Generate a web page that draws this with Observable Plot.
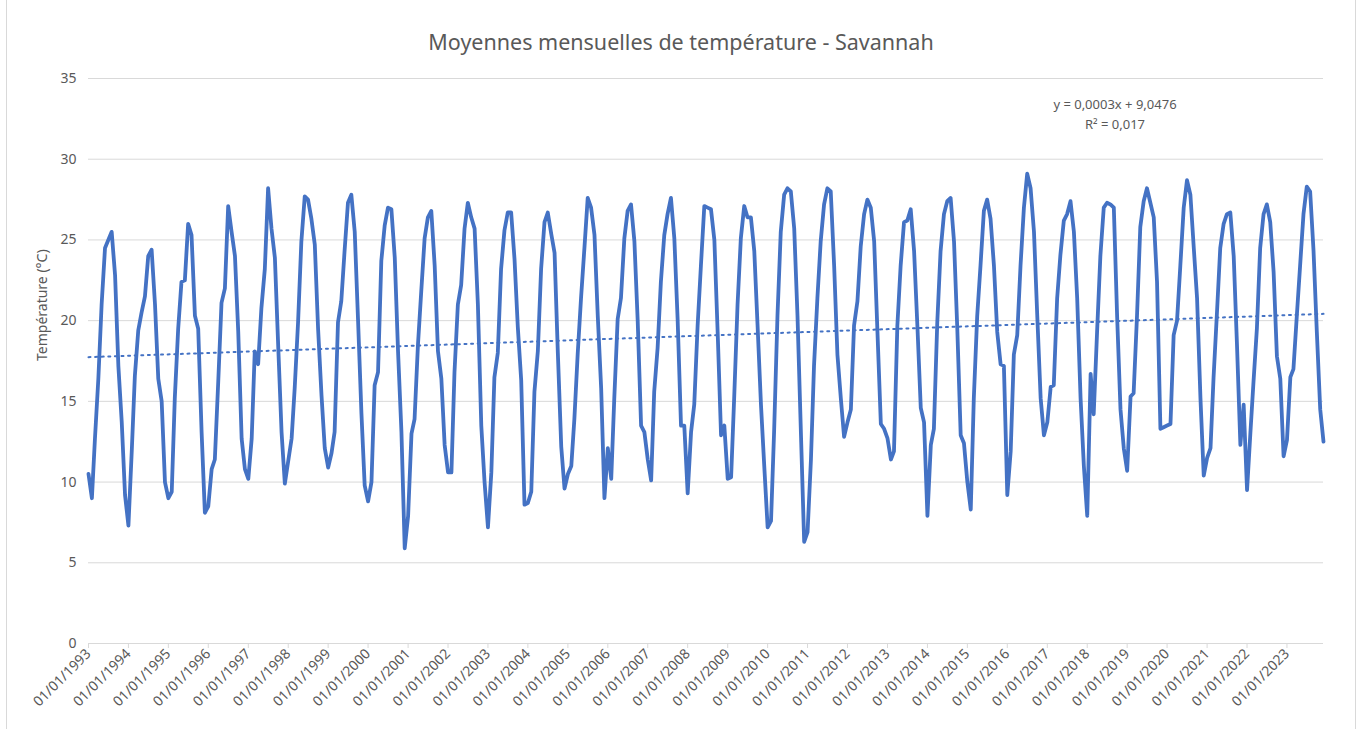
<!DOCTYPE html>
<html><head><meta charset="utf-8">
<script src="https://cdn.jsdelivr.net/npm/d3@7"></script>
<script src="https://cdn.jsdelivr.net/npm/@observablehq/plot@0.6"></script>
<style>
body{margin:0;background:#fff;}
#wrap{position:relative;width:1362px;height:729px;overflow:hidden;font-family:"Noto Sans",sans-serif;color:#595959;}
#frame{position:absolute;left:6px;top:-2px;width:1350px;height:740px;border:1px solid #d9d9d9;box-sizing:border-box;}
#title{position:absolute;left:0;top:27px;width:1362px;text-align:center;font-size:21.5px;}
#eq{position:absolute;left:1015px;top:94px;width:200px;text-align:center;font-size:13px;line-height:20px;}
#chart{position:absolute;left:0;top:0;}
</style></head><body>
<div id="wrap"><div id="frame"></div><div id="chart"></div><div id="title"></div><div id="eq"></div></div>
<script>
const titleText = "Moyennes mensuelles de température - Savannah";
const yLabel = "Température (°C)";
const equationLines = ["y = 0,0003x + 9,0476", "R² = 0,017"];
const startYear = 1993;
const yTicks = [0, 5, 10, 15, 20, 25, 30, 35];
const tickYears = d3.range(1993, 2024);
// Monthly mean temperature (°C), Jan 1993 .. Dec 2023, one row per year
const temperature = [
  10.5, 9.0, 12.7, 16.4, 21.0, 24.5, 25.0, 25.5, 22.8, 17.2, 13.7, 9.2,
  7.3, 12.0, 16.6, 19.4, 20.5, 21.5, 24.0, 24.4, 21.0, 16.4, 15.0, 10.0,
  9.0, 9.4, 15.2, 19.5, 22.4, 22.5, 26.0, 25.3, 20.3, 19.5, 13.1, 8.1,
  8.5, 10.8, 11.4, 16.2, 21.1, 22.0, 27.1, 25.5, 24.0, 19.3, 12.7, 10.8,
  10.2, 12.7, 18.1, 17.3, 20.8, 23.2, 28.2, 25.7, 23.9, 18.5, 13.1, 9.9,
  11.3, 12.7, 15.8, 19.9, 24.9, 27.7, 27.5, 26.3, 24.7, 19.5, 15.4, 12.1,
  10.9, 11.8, 13.1, 19.9, 21.2, 24.4, 27.3, 27.8, 25.5, 20.1, 14.3, 9.8,
  8.8, 10.0, 16.0, 16.8, 23.7, 25.9, 27.0, 26.9, 23.9, 18.1, 13.1, 5.9,
  7.9, 13.0, 13.9, 18.5, 21.8, 25.1, 26.4, 26.8, 23.4, 18.1, 16.4, 12.3,
  10.6, 10.6, 16.8, 21.0, 22.2, 25.7, 27.3, 26.4, 25.7, 21.0, 13.5, 10.0,
  7.2, 10.6, 16.5, 18.0, 23.2, 25.6, 26.7, 26.7, 23.8, 19.6, 16.3, 8.6,
  8.7, 9.4, 15.6, 18.1, 23.2, 26.1, 26.7, 25.4, 24.2, 18.0, 12.2, 9.6,
  10.5, 11.0, 13.9, 18.0, 21.4, 24.5, 27.6, 27.0, 25.3, 20.3, 15.8, 9.0,
  12.1, 10.2, 15.2, 20.1, 21.4, 25.1, 26.8, 27.2, 24.9, 20.0, 13.5, 13.1,
  11.4, 10.1, 15.6, 18.3, 22.4, 25.3, 26.6, 27.6, 25.1, 20.1, 13.5, 13.5,
  9.3, 13.1, 14.8, 19.7, 23.4, 27.1, 27.0, 26.9, 25.0, 19.3, 12.9, 13.5,
  10.2, 10.3, 15.2, 21.0, 25.1, 27.1, 26.4, 26.4, 24.3, 19.7, 14.8, 11.0,
  7.2, 7.6, 13.1, 20.3, 25.5, 27.8, 28.2, 28.0, 25.7, 20.3, 13.1, 6.3,
  6.9, 11.4, 17.2, 21.4, 24.9, 27.2, 28.2, 28.0, 23.4, 17.9, 15.2, 12.8,
  13.7, 14.5, 19.7, 21.2, 24.6, 26.6, 27.5, 27.0, 24.9, 19.3, 13.6, 13.3,
  12.7, 11.4, 11.9, 19.7, 23.4, 26.1, 26.2, 26.9, 24.3, 19.7, 14.6, 13.7,
  7.9, 12.3, 13.3, 19.9, 24.3, 26.6, 27.4, 27.6, 24.9, 19.5, 12.9, 12.4,
  10.0, 8.3, 15.2, 20.3, 23.4, 26.8, 27.5, 26.3, 23.4, 19.3, 17.3, 17.2,
  9.2, 11.9, 17.9, 19.1, 23.4, 27.0, 29.1, 28.2, 25.5, 20.3, 15.2, 12.9,
  13.7, 15.9, 16.0, 21.4, 24.1, 26.2, 26.6, 27.4, 25.5, 21.4, 15.2, 11.0,
  7.9, 16.7, 14.2, 19.3, 24.0, 27.0, 27.3, 27.2, 27.0, 20.3, 14.5, 12.1,
  10.7, 15.3, 15.5, 20.3, 25.8, 27.4, 28.2, 27.3, 26.4, 22.4, 13.3, 13.4,
  13.5, 13.6, 19.1, 20.0, 23.4, 27.0, 28.7, 27.8, 24.5, 21.4, 15.2, 10.4,
  11.5, 12.1, 16.5, 20.5, 24.5, 26.0, 26.6, 26.7, 24.0, 18.5, 12.3, 14.8,
  9.5, 13.1, 16.2, 19.5, 24.5, 26.6, 27.2, 26.1, 23.0, 17.8, 16.4, 11.6,
  12.6, 16.5, 17.0, 20.3, 23.4, 26.6, 28.3, 28.0, 24.3, 19.3, 14.5, 12.5
];

const data = temperature.map((v, i) => ({
  date: new Date(Date.UTC(startYear + Math.floor(i / 12), i % 12, 1)),
  value: v
}));
const tickDates = tickYears.map(y => new Date(Date.UTC(y, 0, 1)));
const fmt = d3.utcFormat("%d/%m/%Y");

const chart = Plot.plot({
  width: 1362,
  height: 729,
  marginLeft: 88,
  marginRight: 39,
  marginTop: 78,
  marginBottom: 86,
  style: {fontFamily: '"Noto Sans", sans-serif', fontSize: "14px", color: "#595959", background: "transparent", overflow: "visible"},
  x: {type: "utc", domain: [data[0].date, data[data.length - 1].date]},
  y: {domain: [0, 35]},
  marks: [
    Plot.gridY(yTicks, {stroke: "#d9d9d9", strokeOpacity: 1, strokeWidth: 1}),
    Plot.axisY(yTicks, {tickSize: 0, tickPadding: 12, label: null, fill: "#595959", fontSize: 14}),
    Plot.axisX(tickDates, {tickRotate: -45, tickFormat: fmt, tickSize: 5, tickPadding: 3, stroke: "#d9d9d9", strokeOpacity: 1, label: null, fill: "#595959", fontSize: 14}),
    Plot.lineY(data, {x: "date", y: "value", stroke: "#4472C4", strokeWidth: 3.8, strokeLinejoin: "round", strokeLinecap: "round"}),
    Plot.linearRegressionY(data, {x: "date", y: "value", stroke: "#4472C4", strokeWidth: 2, strokeDasharray: "2,4.6", ci: 0}),
    Plot.text([yLabel], {frameAnchor: "left", dx: -46, rotate: -90, fill: "#595959", fontSize: 14})
  ]
});
document.getElementById("chart").appendChild(chart);
document.getElementById("title").textContent = titleText;
document.getElementById("eq").innerHTML = equationLines.map(s => `<div>${s}</div>`).join("");
</script>
</body></html>
